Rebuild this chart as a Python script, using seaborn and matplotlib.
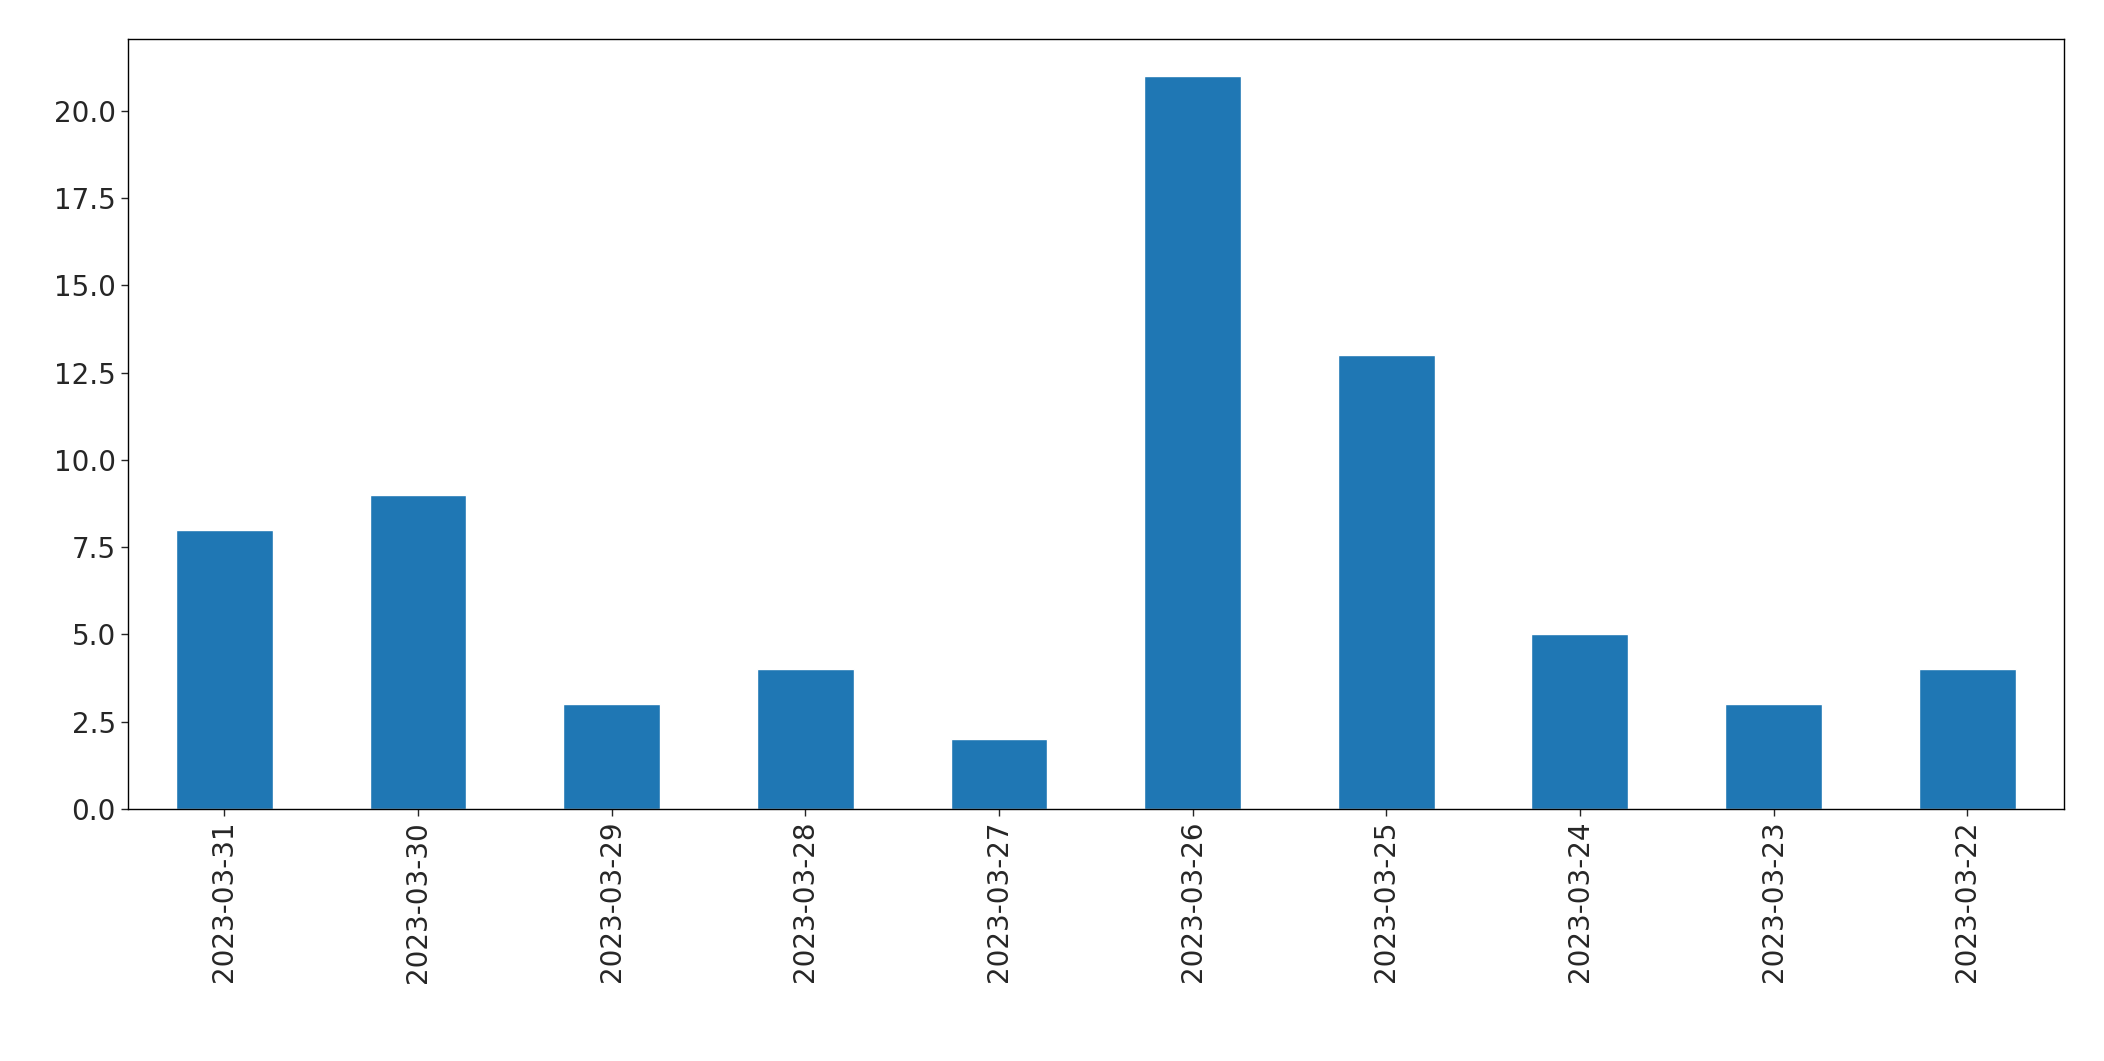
import matplotlib
matplotlib.use("Agg")
import matplotlib.pyplot as plt
import seaborn as sns
import pandas as pd

dates = ["2023-03-31","2023-03-30","2023-03-29","2023-03-28","2023-03-27",
         "2023-03-26","2023-03-25","2023-03-24","2023-03-23","2023-03-22"]
counts = [8, 9, 3, 4, 2, 21, 13, 5, 3, 4]

sns.set_style("white")
plt.rcParams['font.family'] = ['DejaVu Sans']
df = pd.DataFrame({"date": dates, "count": counts})

fig = plt.figure(figsize=(21.04, 10.61), dpi=100)
ax = fig.add_axes([0.0606, 0.2375, 0.9204, 0.7255])
sns.barplot(data=df, x="date", y="count", color="#1f77b4", saturation=1, width=0.5, ax=ax)
ax.set_xlabel("")
ax.set_ylabel("")
ax.set_ylim(0, 22.05)
ax.set_xlim(-0.5, len(dates) - 0.5)
ax.tick_params(axis="both", labelsize=20, length=5, width=1, direction="out", bottom=True, left=True)
plt.setp(ax.get_xticklabels(), rotation=90)
ax.set_yticks([0, 2.5, 5, 7.5, 10, 12.5, 15, 17.5, 20])
ax.set_yticklabels([f"{v:.1f}" for v in ax.get_yticks()])
for s in ax.spines.values():
    s.set_color("black"); s.set_linewidth(1)
fig.savefig("out.png", dpi=100)
